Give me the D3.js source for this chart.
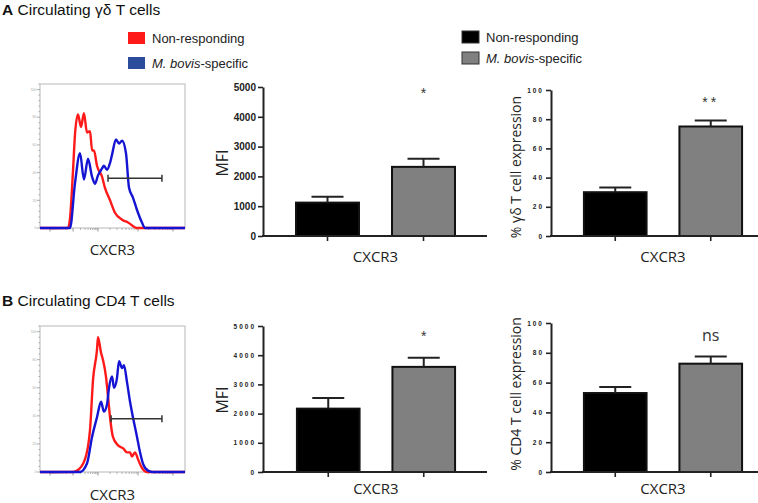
<!DOCTYPE html>
<html><head><meta charset="utf-8">
<script src="https://cdn.jsdelivr.net/npm/d3@7"></script>
<style>body{margin:0;background:#fff} svg{display:block}</style>
</head><body><svg id="c" width="758" height="503"></svg>
<script>
// ---------- data ----------
const groups = ["Non-responding", "M. bovis-specific"];
const markerLabel = "CXCR3";
const gdMFI = [1120, 2320];
const gdMFIErr = [200, 270];
const gdPct = [30, 75];
const gdPctErr = [3.3, 4.1];
const cd4MFI = [2170, 3600];
const cd4MFIErr = [365, 315];
const cd4Pct = [53, 72.7];
const cd4PctErr = [4, 4.9];
const sigLabels = ["*", "**", "*", "ns"];
const mfiTicks = [0, 1000, 2000, 3000, 4000, 5000];
const pctTicks = [0, 20, 40, 60, 80, 100];
const histYTicks = [0, 20, 40, 60, 80, 100];
const histDecades = [69, 228, 400, 676, 917];
// histogram series: [channel, % of max]
const gdRed = [[0,0],[193,0],[207,7],[228,42],[241,67],[262,82],[283,73],[303,83],[324,69],[345,70],[359,56],[372,56],[393,45],[428,37],[448,29],[483,20],[517,11],[566,6],[607,4],[669,0],[1000,0]];
const gdBlue = [[0,0],[207,0],[241,32],[276,54],[303,35],[331,50],[359,37],[379,32],[400,38],[428,43],[441,45],[462,42],[483,47],[497,53],[524,64],[545,61],[566,63],[593,54],[614,29],[641,22],[669,13],[703,4],[724,0],[1000,0]];
const cd4Red = [[0,0],[221,0],[255,1],[310,9],[345,30],[366,66],[393,87],[400,96],[421,85],[434,80],[455,68],[469,54],[483,39],[503,25],[538,19],[572,17],[600,14],[621,14],[634,11],[655,14],[676,9],[703,3],[738,0],[1000,0]];
const cd4Blue = [[0,0],[276,0],[324,6],[359,25],[393,39],[421,50],[441,43],[462,48],[476,60],[497,68],[510,60],[531,67],[545,79],[566,74],[579,76],[600,64],[621,50],[641,39],[669,25],[690,14],[710,6],[745,1],[779,0],[1000,0]];
const gdGate = [469, 841, 36];
const cd4Gate = [490, 841, 38];

// ---------- drawing ----------
const svg = d3.select("#c");
const SANS = "'Liberation Sans', Arial, sans-serif";
const OPEN = "'Open Sans', 'Noto Sans', sans-serif";
const RED = "#ff1a1a", BLUE = "#1414d2", LEGBLUE = "#2c4c9c", GREY = "#808080";

// titles
function title(y, letter, rest) {
  const t = svg.append("text").attr("x", 2).attr("y", y).attr("font-family", SANS).attr("font-size", 15.5).attr("fill", "#111");
  t.append("tspan").attr("font-weight", "bold").text(letter);
  t.append("tspan").text(" " + rest);
}
title(15, "A", "Circulating γδ T cells");
title(306, "B", "Circulating CD4 T cells");

// legends
function legend(x, ys, colors, stroke) {
  groups.forEach((gname, i) => {
    svg.append("rect").attr("x", x).attr("y", ys[i]).attr("width", 17).attr("height", 12)
      .attr("fill", colors[i]).attr("stroke", stroke).attr("stroke-width", stroke === "none" ? 0 : 1);
    const t = svg.append("text").attr("x", x + 24).attr("y", ys[i] + 11).attr("font-family", SANS)
      .attr("font-size", 13).attr("fill", "#222");
    if (i === 1) {
      t.append("tspan").attr("font-style", "italic").text("M. bovis");
      t.append("tspan").text("-specific");
    } else t.text(gname);
  });
}
legend(128, [32, 57], [RED, LEGBLUE], "none");
legend(462, [31, 52], ["#000", GREY], "#333");

// histogram panels
function histogram(box, red, blue, gate, labelY) {
  const g = svg.append("g");
  const xs = d3.scaleLinear([0, 1000], [box.x0, box.x1]);
  const ys = d3.scaleLinear([0, 104], [box.y1, box.y0]);
  g.append("rect").attr("x", box.x0).attr("y", box.y0).attr("width", box.x1 - box.x0).attr("height", box.y1 - box.y0)
    .attr("fill", "none").attr("stroke", "#c4c4c4").attr("stroke-width", 1.2);
  // y ticks
  for (let v = 0; v <= 104; v += 4) {
    const major = histYTicks.includes(v);
    g.append("line").attr("x1", box.x0).attr("x2", box.x0 - (major ? 3 : 1.5))
      .attr("y1", ys(v)).attr("y2", ys(v)).attr("stroke", "#999").attr("stroke-width", 0.8);
  }
  histYTicks.forEach(v => {
    g.append("text").attr("x", box.x0 - 3.5).attr("y", ys(v) + 1.2).attr("text-anchor", "end")
      .attr("font-family", SANS).attr("font-size", 3.5).attr("fill", "#aaa").text(v);
  });
  // x ticks (log-like)
  histDecades.forEach(v => {
    g.append("line").attr("x1", xs(v)).attr("x2", xs(v)).attr("y1", box.y1).attr("y2", box.y1 + 3.5)
      .attr("stroke", "#888").attr("stroke-width", 0.9);
  });
  for (let d = 1; d < histDecades.length - 1; d++) {
    const a = histDecades[d], b = histDecades[d + 1];
    for (let k = 2; k <= 9; k++) {
      const p = a + (b - a) * Math.log10(k);
      g.append("line").attr("x1", xs(p)).attr("x2", xs(p)).attr("y1", box.y1).attr("y2", box.y1 + 2)
        .attr("stroke", "#999").attr("stroke-width", 0.7);
    }
  }
  {
    const a = histDecades[0], b = histDecades[1];
    for (let k = 2; k <= 9; k++) {
      const p = b - (b - a) * Math.log10(k);
      g.append("line").attr("x1", xs(p)).attr("x2", xs(p)).attr("y1", box.y1).attr("y2", box.y1 + 2)
        .attr("stroke", "#999").attr("stroke-width", 0.7);
    }
  }
  const line = d3.line().x(d => xs(d[0])).y(d => ys(d[1])).curve(d3.curveMonotoneX);
  g.append("path").attr("d", line(red)).attr("fill", "none").attr("stroke", RED).attr("stroke-width", 2.4).attr("stroke-linejoin", "round");
  g.append("path").attr("d", line(blue)).attr("fill", "none").attr("stroke", BLUE).attr("stroke-width", 2.4).attr("stroke-linejoin", "round");
  // gate
  const gy = ys(gate[2]);
  g.append("line").attr("x1", xs(gate[0])).attr("x2", xs(gate[1])).attr("y1", gy).attr("y2", gy).attr("stroke", "#333").attr("stroke-width", 1.5);
  [gate[0], gate[1]].forEach(v => g.append("line").attr("x1", xs(v)).attr("x2", xs(v)).attr("y1", gy - 3.5).attr("y2", gy + 3.5).attr("stroke", "#333").attr("stroke-width", 1.5));
  g.append("text").attr("x", (box.x0 + box.x1) / 2 + 0).attr("y", labelY).attr("text-anchor", "middle")
    .attr("font-family", OPEN).attr("font-size", 15).attr("fill", "#222").text(markerLabel);
}
histogram({x0: 40, x1: 185, y0: 84, y1: 228}, gdRed, gdBlue, gdGate, 255);
histogram({x0: 40, x1: 185, y0: 326, y1: 472}, cd4Red, cd4Blue, cd4Gate, 500);

// bar charts
function barChart(o) {
  const g = svg.append("g");
  const y = d3.scaleLinear([0, o.max], [o.yBottom, o.yTop]);
  const x = d3.scaleBand(groups, [o.bx0, o.bx1]).paddingInner(0.344).paddingOuter(0.172);
  // bars
  groups.forEach((gr, i) => {
    g.append("rect").attr("x", x(gr)).attr("y", y(o.values[i])).attr("width", x.bandwidth())
      .attr("height", y(0) - y(o.values[i])).attr("fill", i === 0 ? "#000" : GREY)
      .attr("stroke", "#111").attr("stroke-width", 2);
    const cx = x(gr) + x.bandwidth() / 2;
    const top = y(o.values[i] + o.errs[i]);
    g.append("line").attr("x1", cx).attr("x2", cx).attr("y1", y(o.values[i])).attr("y2", top).attr("stroke", "#222").attr("stroke-width", 2);
    g.append("line").attr("x1", cx - 16).attr("x2", cx + 16).attr("y1", top).attr("y2", top).attr("stroke", "#222").attr("stroke-width", 2);
  });
  // y axis
  const ax = g.append("g").attr("transform", `translate(${o.axX},0)`)
    .call(d3.axisLeft(y).tickValues(o.ticks).tickFormat(d3.format("d")).tickSize(5).tickSizeOuter(0).tickPadding(2));
  ax.select(".domain").attr("stroke", "#222").attr("stroke-width", 2);
  ax.selectAll(".tick line").attr("stroke", "#222").attr("stroke-width", 1.6);
  ax.selectAll(".tick text").attr("font-family", SANS).attr("font-weight", "bold")
    .attr("font-size", o.tickFont).attr("letter-spacing", o.tickSpacing).attr("fill", "#222");
  // x axis
  g.append("line").attr("x1", o.axX - 1).attr("x2", o.axEnd).attr("y1", y(0)).attr("y2", y(0)).attr("stroke", "#222").attr("stroke-width", 2);
  const xa = g.append("g").attr("transform", `translate(0,${y(0)})`)
    .call(d3.axisBottom(x).tickSize(5).tickSizeOuter(0).tickFormat(""));
  xa.select(".domain").remove();
  xa.selectAll(".tick line").attr("stroke", "#222").attr("stroke-width", 1.6);
  // labels
  g.append("text").attr("x", (o.bx0 + o.bx1) / 2).attr("y", o.xLabelY).attr("text-anchor", "middle")
    .attr("font-family", OPEN).attr("font-size", 15).attr("fill", "#222").text(markerLabel);
  g.append("text").attr("transform", `translate(${o.yLabelX},${o.yLabelY}) rotate(-90)`).attr("text-anchor", "middle")
    .attr("font-family", OPEN).attr("font-size", o.yLabelFont).attr("fill", "#222").text(o.yLabel);
  const sx = x(groups[1]) + x.bandwidth() / 2;
  g.append("text").attr("x", sx).attr("y", o.sigY).attr("text-anchor", "middle")
    .attr("font-family", o.sig === "ns" ? OPEN : SANS).attr("font-size", o.sig === "ns" ? 16 : 14)
    .attr("letter-spacing", o.sig === "**" ? 3 : 0).attr("fill", "#333").text(o.sig);
}
barChart({values: gdMFI, errs: gdMFIErr, max: 5000, ticks: mfiTicks, yTop: 87, yBottom: 236, bx0: 279.5, bx1: 471.5,
  axX: 263, axEnd: 487, tickFont: 10, tickSpacing: 0, xLabelY: 262, yLabel: "MFI", yLabelX: 228, yLabelY: 163, yLabelFont: 16,
  sig: sigLabels[0], sigY: 98});
barChart({values: gdPct, errs: gdPctErr, max: 100, ticks: pctTicks, yTop: 90, yBottom: 236, bx0: 567.5, bx1: 758.5,
  axX: 551, axEnd: 758, tickFont: 6.5, tickSpacing: 2, xLabelY: 262, yLabel: "% γδ T cell expression", yLabelX: 521, yLabelY: 167, yLabelFont: 14,
  sig: sigLabels[1], sigY: 107});
barChart({values: cd4MFI, errs: cd4MFIErr, max: 5000, ticks: mfiTicks, yTop: 326, yBottom: 472, bx0: 280.5, bx1: 471.5,
  axX: 263, axEnd: 487, tickFont: 6.5, tickSpacing: 2, xLabelY: 494, yLabel: "MFI", yLabelX: 228, yLabelY: 400, yLabelFont: 16,
  sig: sigLabels[2], sigY: 341});
barChart({values: cd4Pct, errs: cd4PctErr, max: 100, ticks: pctTicks, yTop: 323, yBottom: 472, bx0: 567.5, bx1: 758.5,
  axX: 551, axEnd: 758, tickFont: 6.5, tickSpacing: 2, xLabelY: 494, yLabel: "% CD4 T cell expression", yLabelX: 521, yLabelY: 394, yLabelFont: 14,
  sig: sigLabels[3], sigY: 341});
</script></body></html>
